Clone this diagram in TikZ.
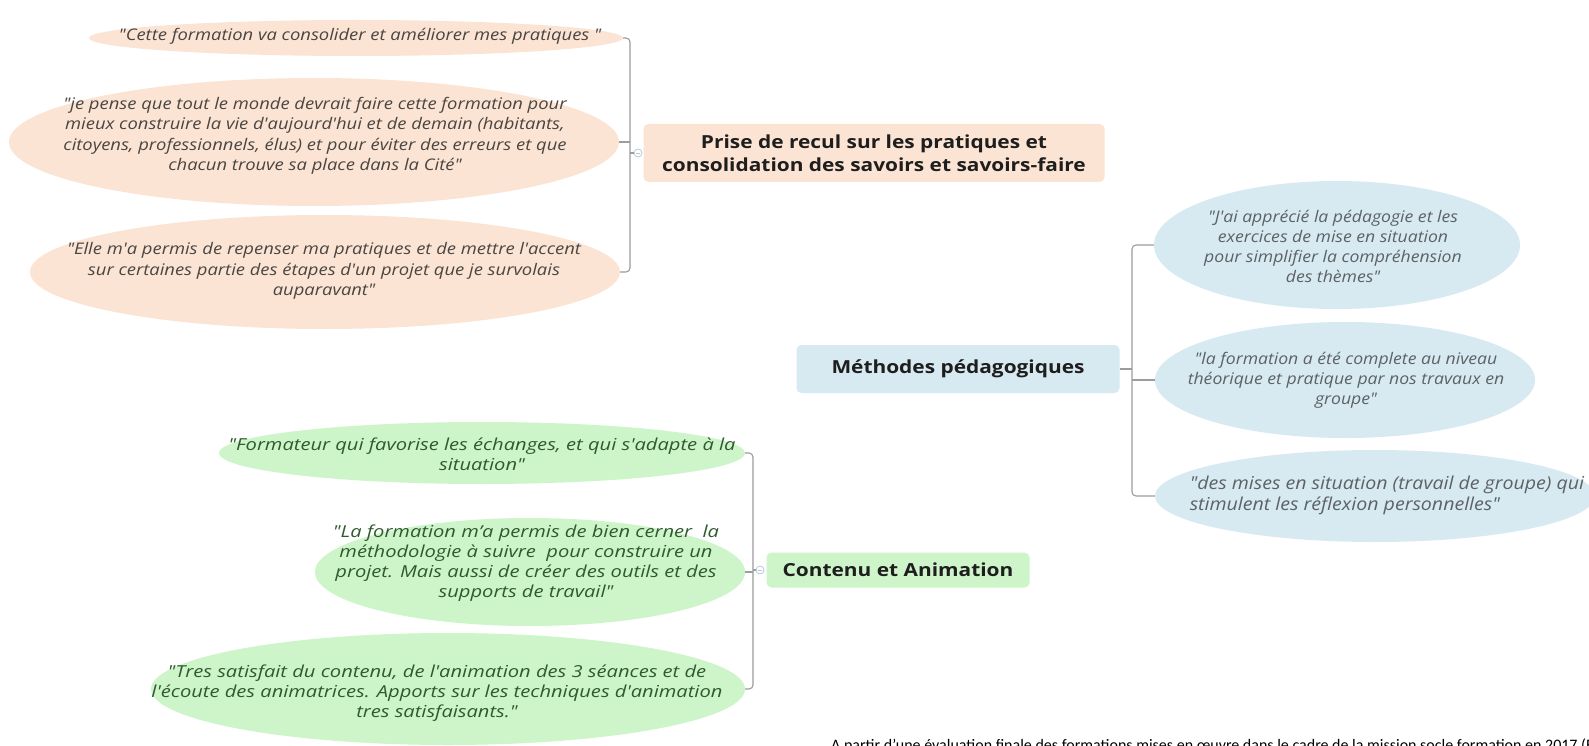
\documentclass[tikz,border=0pt]{standalone}
\usepackage{fontspec}
\setmainfont{Open Sans}[FakeStretch=1.16]
\newfontfamily\peachfont{Open Sans}[Ligatures=TeXOff, FakeStretch=1.15]
\newfontfamily\skyfont{Open Sans}[Ligatures=TeXOff, FakeStretch=1.1]
\newfontfamily\mintfont{Open Sans}[Ligatures=TeXOff, FakeStretch=1.22]
\newfontfamily\notefont{Carlito}
\usetikzlibrary{shapes}

\definecolor{peach}{HTML}{FBE4D3}
\definecolor{sky}{HTML}{D7E9F1}
\definecolor{mint}{HTML}{CDF5C9}
\definecolor{linegray}{HTML}{9C9C9C}
\definecolor{knobblue}{HTML}{B8C8DC}
\definecolor{peachtxt}{HTML}{4A4542}
\definecolor{skytxt}{HTML}{5C6266}
\definecolor{minttxt}{HTML}{2F5A2F}
\definecolor{themetxt}{HTML}{1E1E1E}

\tikzset{
  bubble/.style={ellipse, inner sep=0pt},
  quote/.style={align=center, inner sep=0pt},
  peachquote/.style={quote, text=peachtxt, font=\peachfont\itshape\fontsize{16}{20.5}\selectfont},
  skyquote/.style={quote, text=skytxt, font=\skyfont\itshape\fontsize{16}{20}\selectfont},
  mintquote/.style={quote, text=minttxt, font=\mintfont\itshape\fontsize{16.5}{20}\selectfont},
  theme/.style={rounded corners=5pt, inner sep=0pt, align=center, text=themetxt,
    font=\bfseries\fontsize{18}{23}\selectfont},
  branch/.style={draw=linegray, line width=1.1pt, rounded corners=4pt},
  knob/.style={circle, draw=knobblue, fill=white, line width=0.8pt, minimum size=8pt, inner sep=0pt}
}

\begin{document}
\begin{tikzpicture}[x=1pt,y=-1pt]
  \useasboundingbox (0,0) rectangle (1589,746);
  \fill[white] (0,0) rectangle (1589,746);

  \node[bubble, fill=peach, minimum width=534pt, minimum height=36pt] (e1) at (356,38) {};
  \node[bubble, fill=peach, minimum width=610pt, minimum height=128pt] (e2) at (314,142) {};
  \node[bubble, fill=peach, minimum width=590pt, minimum height=114pt] (e3) at (325,272) {};
  \node[peachquote] (q1) at (360,36) {"Cette formation va consolider et améliorer mes pratiques "};
  \node[peachquote] (q2) at (315,136) {"je pense que tout le monde devrait faire cette formation pour\\mieux construire la vie d'aujourd'hui et de demain (habitants,\\citoyens, professionnels, élus) et pour éviter des erreurs et que\\chacun trouve sa place dans la Cité"};
  \node[peachquote] (q3) at (324,271) {"Elle m'a permis de repenser ma pratiques et de mettre l'accent\\sur certaines partie des étapes d'un projet que je survolais\\auparavant"};

  \node[theme, fill=peach, minimum width=461pt, minimum height=58pt] (recul) at (874,153) {Prise de recul sur les pratiques et\\consolidation des savoirs et savoirs-faire};
  \coordinate (pk) at (630,153);
  \node[knob] (pknob) at (638,153) {};
  \draw[branch] (e1.east) -| (pk) |- (e3.east);
  \draw[branch] (e2.east) -- (e2.east -| pk);
  \draw[branch] (pk) -- (pknob);
  \draw[knobblue, line width=0.8pt] ([xshift=-2pt]pknob.center) -- ([xshift=2pt]pknob.center);

  \node[theme, fill=sky, minimum width=323pt, minimum height=48pt] (meth) at (958,369) {Méthodes pédagogiques};
  \node[bubble, fill=sky, minimum width=366pt, minimum height=128pt] (b1) at (1337,245) {};
  \node[bubble, fill=sky, minimum width=380pt, minimum height=116pt] (b2) at (1345,380) {};
  \node[bubble, fill=sky, minimum width=440pt, minimum height=92pt] (b3) at (1375,496) {};
  \node[skyquote] (q4) at (1333,246) {"J'ai apprécié la pédagogie et les\\exercices de mise en situation\\pour simplifier la compréhension\\des thèmes"};
  \node[skyquote] (q5) at (1346,380) {"la formation a été complete au niveau\\théorique et pratique par nos travaux en\\groupe"};
  \node[skyquote, align=left, font=\skyfont\itshape\fontsize{17.8}{21}\selectfont] (q6) at (1387,495) {"des mises en situation (travail de groupe) qui\\stimulent les réflexion personnelles"};
  \coordinate (bk) at (1132,369);
  \draw[branch] (b1.west) -| (bk) |- (b3.west);
  \draw[branch] (b2.west) -- (b2.west -| bk);
  \draw[branch] (meth.east) -- (bk);

  \node[bubble, fill=mint, minimum width=526pt, minimum height=62pt] (g1) at (482,453) {};
  \node[bubble, fill=mint, minimum width=430pt, minimum height=108pt] (g2) at (530,572) {};
  \node[bubble, fill=mint, minimum width=594pt, minimum height=112pt] (g3) at (448,689) {};
  \node[mintquote] (q7) at (482,454) {"Formateur qui favorise les échanges, et qui s'adapte à la\\situation"};
  \node[mintquote] (q8) at (526,563) {"La formation m’a permis de bien cerner~ la\\méthodologie à suivre~ pour construire un\\projet. Mais aussi de créer des outils et des\\supports de travail"};
  \node[mintquote] (q9) at (437,693) {"Tres satisfait du contenu, de l'animation des 3 séances et de\\l'écoute des animatrices. Apports sur les techniques d'animation\\tres satisfaisants."};

  \node[theme, fill=mint, minimum width=263pt, minimum height=35pt] (anim) at (898,570) {Contenu et Animation};
  \coordinate (gk) at (753,570);
  \node[knob] (gknob) at (760,570) {};
  \draw[branch] (g1.east) -| (gk) |- (g3.east);
  \draw[branch] (g2.east) -- (g2.east -| gk);
  \draw[branch] (gk) -- (gknob);
  \draw[knobblue, line width=0.8pt] ([xshift=-2pt]gknob.center) -- ([xshift=2pt]gknob.center);

  \node[anchor=base west, inner sep=0pt, font=\notefont\fontsize{16}{18}\selectfont] (note) at (831,750) {A partir d’une évaluation finale des formations mises en œuvre dans le cadre de la mission socle formation en 2017 (EPCI)};
\end{tikzpicture}
\end{document}
